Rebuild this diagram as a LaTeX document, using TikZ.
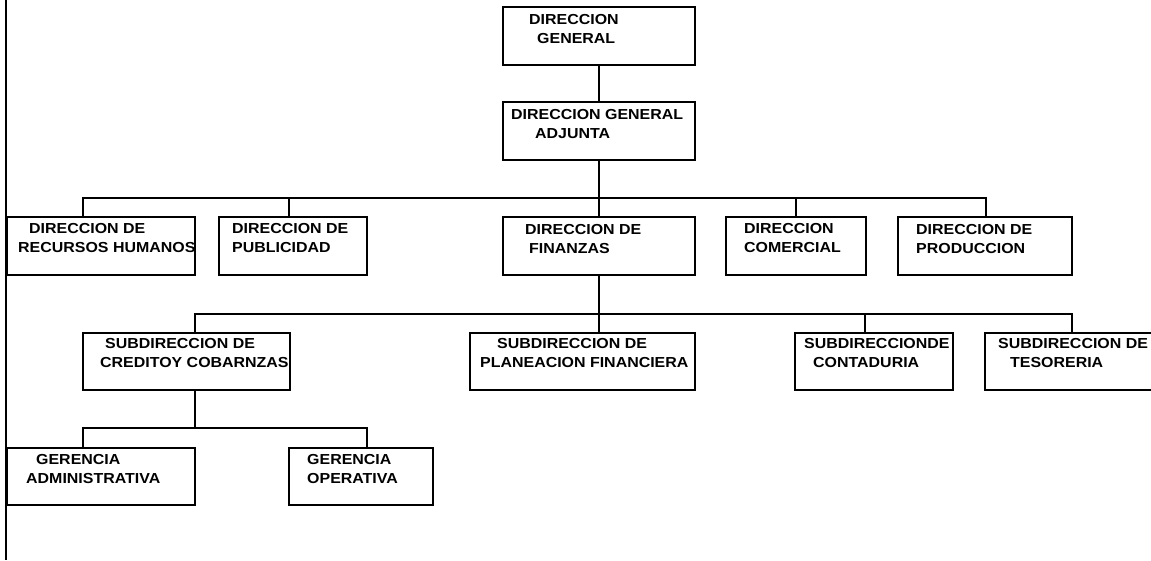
\documentclass[tikz,border=0pt]{standalone}
\usepackage{fontspec}
\setmainfont{Liberation Sans}[FakeStretch=1.1]
\usetikzlibrary{calc}
\tikzset{
  box/.style={draw, line width=2pt, rectangle, inner sep=0pt},
  conn/.style={draw, line width=2pt},
  lbl/.style={anchor=north west, inner sep=0pt, align=left, yshift=-1pt,
              font=\fontsize{14.5}{19.5}\selectfont\bfseries}
}
\begin{document}
\begin{tikzpicture}[x=1pt,y=-1pt]
\useasboundingbox (0,0) rectangle (1151,560);
% left border
\draw[line width=2pt] (6,0) -- (6,560);
% boxes
\node[box, minimum width=192pt, minimum height=58pt] (dg)   at (599,36)    {};
\node[box, minimum width=192pt, minimum height=58pt] (dga)  at (599,131)   {};
\node[box, minimum width=188pt, minimum height=58pt] (rh)   at (101,246)   {};
\node[box, minimum width=148pt, minimum height=58pt] (pub)  at (293,246)   {};
\node[box, minimum width=192pt, minimum height=58pt] (fin)  at (599,246)   {};
\node[box, minimum width=140pt, minimum height=58pt] (com)  at (796,246)   {};
\node[box, minimum width=174pt, minimum height=58pt] (prod) at (985,246)   {};
\node[box, minimum width=207pt, minimum height=57pt] (cred) at (186.5,361.5) {};
\node[box, minimum width=225pt, minimum height=57pt] (plan) at (582.5,361.5) {};
\node[box, minimum width=158pt, minimum height=57pt] (cont) at (874,361.5) {};
\node[box, minimum width=168pt, minimum height=57pt] (tes)  at (1069,361.5) {};
\node[box, minimum width=188pt, minimum height=57pt] (gadm) at (101,476.5) {};
\node[box, minimum width=144pt, minimum height=57pt] (gop)  at (361,476.5) {};
% labels
\node[lbl] (dgt)   at (529,13)  {DIRECCION\\\hspace*{8pt}GENERAL};
\node[lbl] (dgat)  at (511,108) {DIRECCION GENERAL\\\hspace*{24pt}ADJUNTA};
\node[lbl] (rht)   at (18,222)  {\hspace*{11pt}DIRECCION DE\\RECURSOS HUMANOS};
\node[lbl] (pubt)  at (232,222) {DIRECCION DE\\PUBLICIDAD};
\node[lbl] (fint)  at (525,223) {DIRECCION DE\\\hspace*{4pt}FINANZAS};
\node[lbl] (comt)  at (744,222) {DIRECCION\\COMERCIAL};
\node[lbl] (prodt) at (916,223) {DIRECCION DE\\PRODUCCION};
\node[lbl] (credt) at (100,337) {\hspace*{5pt}SUBDIRECCION DE\\CREDITOY COBARNZAS};
\node[lbl] (plant) at (480,337) {\hspace*{17pt}SUBDIRECCION DE\\PLANEACION FINANCIERA};
\node[lbl] (contt) at (804,337) {SUBDIRECCIONDE\\\hspace*{9pt}CONTADURIA};
\node[lbl] (test)  at (998,337) {SUBDIRECCION DE\\\hspace*{12pt}TESORERIA};
\node[lbl] (gadmt) at (26,453)  {\hspace*{10pt}GERENCIA\\ADMINISTRATIVA};
\node[lbl] (gopt)  at (307,453) {GERENCIA\\OPERATIVA};
% junction coordinates
\coordinate (j1) at (599,198);
\coordinate (j2) at (599,314);
\coordinate (j3) at (195,428);
\coordinate (rhT)   at (83,217);
\coordinate (pubT)  at (289,217);
\coordinate (comT)  at (796,217);
\coordinate (prodT) at (986,217);
\coordinate (credT) at (195,333);
\coordinate (credB) at (195,390);
\coordinate (contT) at (865,333);
\coordinate (tesT)  at (1072,333);
\coordinate (gadmT) at (83,448);
\coordinate (gopT)  at (367,448);
% connectors
\draw[conn] (dg.south) -- (dga.north);
\draw[conn] (dga.south) -- (fin.north);
\draw[conn] (rhT) -- (rhT |- j1) -- (prodT |- j1) -- (prodT);
\draw[conn] (pubT) -- (pubT |- j1);
\draw[conn] (comT) -- (comT |- j1);
\draw[conn] (fin.south) -- (fin.south |- plan.north);
\draw[conn] (credT) -- (credT |- j2) -- (tesT |- j2) -- (tesT);
\draw[conn] (contT) -- (contT |- j2);
\draw[conn] (credB) -- (j3);
\draw[conn] (gadmT) -- (gadmT |- j3) -- (gopT |- j3) -- (gopT);
\end{tikzpicture}
\end{document}
